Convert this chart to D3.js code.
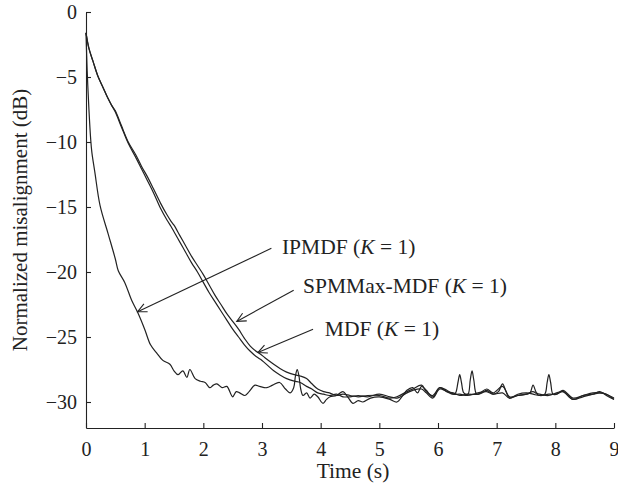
<!DOCTYPE html>
<html>
<head>
<meta charset="utf-8">
<script src="https://cdn.jsdelivr.net/npm/d3@7/dist/d3.min.js"></script>
<style>
  html, body { margin: 0; padding: 0; background: #fff; }
  svg text { font-family: "Liberation Serif", "Times New Roman", serif; fill: #222; }
</style>
</head>
<body>
<svg id="chart" width="618" height="491"></svg>
<script>
// IPMDF (K = 1)
const ipmdfT = [0,0.02,0.05,0.08,0.1,0.15,0.24,0.38,0.5,0.55,0.66,0.78,0.88,1.0,1.1,1.2,1.31,1.43,1.5,1.57,1.65,1.72,1.77,1.86,1.95,2.03,2.11,2.17,2.23,2.32,2.4,2.5,2.56,2.62,2.71,2.78,2.88,2.96,3.08,3.18,3.3,3.4,3.48,3.54,3.57,3.6,3.63,3.66,3.7,3.76,3.82,3.89,3.95,4.04,4.1,4.16,4.27,4.38,4.46,4.55,4.64,4.72,4.85,5.0,5.18,5.3,5.4,5.47,5.57,5.65,5.72,5.8,5.91,6.03,6.15,6.26,6.3,6.34,6.37,6.4,6.44,6.51,6.55,6.58,6.61,6.66,6.75,6.83,6.94,7.1,7.22,7.36,7.51,7.62,7.73,7.82,7.86,7.89,7.92,7.96,8.02,8.13,8.3,8.47,8.64,8.76,8.87,9.0];
const ipmdfY = [-1.6,-4.5,-7.5,-9.8,-10.8,-12.3,-14.9,-17.1,-19.0,-19.9,-20.8,-22.2,-23.1,-24.4,-25.6,-26.2,-26.8,-27.1,-27.6,-27.9,-27.6,-28.1,-27.5,-28.2,-28.4,-28.5,-28.9,-28.7,-28.6,-28.9,-28.8,-29.6,-29.2,-29.3,-29.5,-29.2,-28.7,-28.8,-28.9,-28.7,-28.5,-29.0,-29.3,-28.9,-28.0,-27.5,-28.0,-29.0,-29.5,-29.3,-29.7,-29.4,-29.6,-30.1,-29.8,-29.6,-29.5,-29.2,-29.6,-30.1,-29.9,-30.0,-29.7,-29.6,-29.8,-30.0,-29.5,-29.1,-28.9,-29.3,-28.8,-29.1,-29.6,-28.9,-29.2,-29.4,-29.3,-28.5,-27.9,-28.5,-29.3,-29.4,-28.3,-27.6,-28.3,-29.4,-29.3,-29.1,-29.4,-29.3,-29.7,-29.5,-29.4,-29.2,-29.5,-29.4,-28.5,-27.9,-28.5,-29.4,-29.4,-29.2,-29.8,-29.5,-29.4,-29.3,-29.4,-29.8];

// SPMMax-MDF (K = 1)
const spmT = [0,0.05,0.12,0.2,0.29,0.37,0.44,0.5,0.6,0.72,0.85,0.95,1.05,1.15,1.27,1.38,1.45,1.5,1.6,1.7,1.8,1.9,2.0,2.1,2.2,2.3,2.4,2.5,2.6,2.7,2.8,2.9,3.0,3.1,3.2,3.3,3.42,3.55,3.65,3.76,3.85,3.95,4.05,4.15,4.27,4.38,4.5,4.64,4.8,5.0,5.18,5.3,5.47,5.57,5.72,5.8,5.91,6.03,6.15,6.26,6.37,6.5,6.68,6.83,6.94,7.1,7.22,7.36,7.51,7.57,7.62,7.68,7.73,7.89,8.02,8.13,8.3,8.47,8.64,8.76,8.87,9.0];
const spmY = [-1.6,-2.8,-3.8,-4.9,-5.8,-6.6,-7.2,-7.7,-8.8,-10.1,-11.2,-12.1,-13.0,-13.9,-15.1,-16.0,-16.5,-16.9,-17.7,-18.5,-19.3,-20.0,-20.8,-21.6,-22.3,-23.0,-23.7,-24.4,-25.0,-25.6,-26.1,-26.5,-26.8,-27.2,-27.6,-27.9,-28.2,-28.4,-28.5,-28.8,-29.0,-29.3,-29.4,-29.5,-29.4,-29.6,-29.6,-29.5,-29.6,-29.4,-29.6,-29.7,-29.3,-29.1,-29.0,-29.3,-29.7,-29.0,-29.2,-29.3,-29.5,-29.4,-29.4,-29.0,-29.3,-28.8,-29.6,-29.5,-29.4,-29.3,-28.7,-29.3,-29.4,-29.5,-29.3,-29.2,-29.8,-29.6,-29.4,-29.2,-29.5,-29.8];

// MDF (K = 1)
const mdfT = [0,0.05,0.12,0.2,0.29,0.37,0.44,0.5,0.6,0.72,0.85,0.95,1.05,1.15,1.27,1.38,1.45,1.5,1.6,1.7,1.8,1.9,2.0,2.1,2.2,2.3,2.4,2.5,2.6,2.7,2.8,2.9,2.97,3.05,3.2,3.3,3.42,3.55,3.65,3.76,3.85,3.95,4.05,4.15,4.27,4.38,4.5,4.64,4.8,5.0,5.18,5.3,5.47,5.57,5.72,5.8,5.91,6.03,6.15,6.26,6.37,6.5,6.68,6.83,6.94,7.03,7.1,7.16,7.22,7.36,7.51,7.62,7.73,7.89,8.02,8.13,8.3,8.47,8.64,8.76,8.87,9.0];
const mdfY = [-1.6,-2.8,-3.8,-4.9,-5.8,-6.6,-7.2,-7.6,-8.7,-10.0,-11.0,-11.9,-12.7,-13.6,-14.7,-15.6,-16.1,-16.4,-17.2,-18.0,-18.8,-19.5,-20.2,-21.0,-21.8,-22.5,-23.2,-23.8,-24.4,-25.1,-25.7,-26.1,-26.3,-26.6,-27.1,-27.4,-27.7,-27.9,-28.0,-28.2,-28.6,-29.0,-29.2,-29.3,-29.5,-29.4,-29.5,-29.6,-29.5,-29.5,-29.7,-29.6,-29.2,-29.0,-28.7,-29.2,-29.5,-28.9,-29.1,-29.4,-29.4,-29.5,-29.3,-29.2,-29.4,-29.2,-28.6,-29.2,-29.7,-29.4,-29.3,-29.4,-29.5,-29.4,-29.4,-29.1,-29.7,-29.5,-29.3,-29.3,-29.4,-29.7];

const xTicks = [0,1,2,3,4,5,6,7,8,9];
const yTicks = [0,-5,-10,-15,-20,-25,-30];

// annotations: label, arrow tip, arrow tail, text anchor (data units)
const annNames = ["IPMDF", "SPMMax-MDF", "MDF"];
const annTip = [[0.88,-23.05],[2.57,-23.8],[2.93,-26.2]];
const annTail = [[3.16,-18.18],[3.54,-21.4],[3.87,-24.4]];
const annText = [[3.34,-18.6],[3.70,-21.6],[4.07,-24.9]];

const svg = d3.select("#chart");
const x = d3.scaleLinear().domain([0, 9]).range([86, 614]);
const y = d3.scaleLinear().domain([-32, 0]).range([428, 12]);
const ink = "#222";

const xAxis = svg.append("g")
  .attr("transform", `translate(0,${y(-32)})`)
  .call(d3.axisBottom(x).tickValues(xTicks).tickSizeInner(-5).tickSizeOuter(0).tickPadding(14).tickFormat(d3.format("d")));
const yAxis = svg.append("g")
  .attr("transform", `translate(${x(0)},0)`)
  .call(d3.axisLeft(y).tickValues(yTicks).tickSizeInner(-5).tickSizeOuter(0).tickPadding(9).tickFormat(d3.format("d")));

[xAxis, yAxis].forEach(g => {
  g.select(".domain").attr("stroke", ink).attr("stroke-width", 1.1);
  g.selectAll(".tick line").attr("stroke", ink).attr("stroke-width", 1.1);
  g.selectAll(".tick text")
    .attr("fill", ink)
    .style("font-family", '"Liberation Serif", serif')
    .style("font-size", "20px");
});

svg.append("text")
  .attr("x", (x(0) + x(9)) / 2 + 3)
  .attr("y", 478)
  .attr("text-anchor", "middle")
  .style("font-size", "21.5px")
  .text("Time (s)");

svg.append("text")
  .attr("transform", `translate(27,${(y(0) + y(-32)) / 2}) rotate(-90)`)
  .attr("text-anchor", "middle")
  .style("font-size", "21px")
  .text("Normalized misalignment (dB)");

const line = d3.line()
  .x(d => x(d[0]))
  .y(d => y(d[1]))
  .curve(d3.curveCatmullRom.alpha(0.5));

const series = [
  [ipmdfT, ipmdfY],
  [spmT, spmY],
  [mdfT, mdfY]
];

svg.append("g").selectAll("path")
  .data(series.map(([ts, ys]) => ts.map((t, i) => [t, ys[i]])))
  .join("path")
  .attr("d", line)
  .attr("fill", "none")
  .attr("stroke", ink)
  .attr("stroke-width", 1.2)
  .attr("stroke-linejoin", "round");

// arrows + labels
const ann = svg.append("g");
annNames.forEach((name, i) => {
  const [tx, ty] = [x(annTip[i][0]), y(annTip[i][1])];
  const [sx, sy] = [x(annTail[i][0]), y(annTail[i][1])];
  ann.append("line")
    .attr("x1", sx).attr("y1", sy).attr("x2", tx).attr("y2", ty)
    .attr("stroke", ink).attr("stroke-width", 1.1);
  const ang = Math.atan2(sy - ty, sx - tx);
  const len = 10, spread = Math.PI / 7;
  const p1 = [tx + len * Math.cos(ang - spread), ty + len * Math.sin(ang - spread)];
  const p2 = [tx + len * Math.cos(ang + spread), ty + len * Math.sin(ang + spread)];
  ann.append("path")
    .attr("d", `M${p1[0]},${p1[1]}L${tx},${ty}L${p2[0]},${p2[1]}`)
    .attr("fill", "none").attr("stroke", ink).attr("stroke-width", 1.1);

  const t = ann.append("text")
    .attr("x", x(annText[i][0]))
    .attr("y", y(annText[i][1]))
    .style("font-size", "21.5px");
  t.append("tspan").text(name + " (");
  t.append("tspan").style("font-style", "italic").text("K");
  t.append("tspan").text(" = 1)");
});
</script>
</body>
</html>
